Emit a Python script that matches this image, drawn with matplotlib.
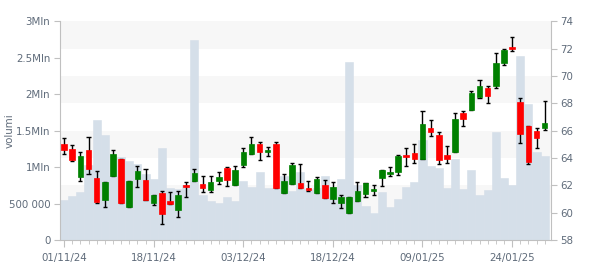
import matplotlib
matplotlib.use("Agg")
import matplotlib.pyplot as plt
from matplotlib.transforms import blended_transform_factory
from matplotlib.patches import Rectangle

dates = ["01/11/24", "04/11/24", "05/11/24", "06/11/24", "07/11/24", "08/11/24", "11/11/24",
         "12/11/24", "13/11/24", "14/11/24", "15/11/24", "18/11/24", "19/11/24", "20/11/24",
         "21/11/24", "22/11/24", "25/11/24", "26/11/24", "27/11/24", "28/11/24", "29/11/24",
         "02/12/24", "03/12/24", "04/12/24", "05/12/24", "06/12/24", "09/12/24", "10/12/24",
         "11/12/24", "12/12/24", "13/12/24", "16/12/24", "17/12/24", "18/12/24", "19/12/24",
         "20/12/24", "23/12/24", "27/12/24", "30/12/24",
         "02/01/25", "03/01/25", "06/01/25", "07/01/25", "08/01/25", "09/01/25", "10/01/25",
         "13/01/25", "14/01/25", "15/01/25", "16/01/25", "17/01/25", "20/01/25", "21/01/25",
         "22/01/25", "23/01/25", "24/01/25", "27/01/25", "28/01/25", "29/01/25", "30/01/25"]

opens = [65.02, 64.63, 62.63, 64.59, 62.54, 60.95, 62.71, 63.93, 60.39, 62.49,
         62.39, 60.73, 61.44, 60.85, 60.22, 62.02, 62.32, 62.10, 61.63, 62.32,
         63.27, 62.05, 63.51, 64.32, 65.02, 64.46, 65.02, 61.46, 62.12, 62.17,
         61.80, 61.46, 62.02, 61.02, 60.73, 60.00, 60.88, 61.39, 61.61, 62.56,
         62.85, 63.00, 64.20, 64.37, 63.93, 66.20, 65.68, 64.22, 64.46, 67.27,
         67.49, 68.49, 69.12, 69.27, 70.98, 72.15, 68.07, 66.32, 65.98, 66.22]
highs = [65.44, 64.93, 64.41, 65.51, 63.02, 62.24, 64.59, 63.93, 62.32, 63.39,
         63.17, 61.29, 61.59, 61.49, 61.56, 62.22, 63.17, 62.66, 62.66, 62.95,
         63.32, 63.39, 64.71, 65.51, 65.20, 64.78, 65.15, 62.80, 63.61, 63.54,
         62.29, 62.59, 62.37, 62.22, 61.27, 61.17, 62.22, 62.15, 62.00, 63.12,
         63.37, 64.20, 64.71, 65.00, 67.41, 66.76, 65.88, 64.90, 67.27, 67.41,
         68.93, 69.68, 69.29, 71.66, 71.95, 72.83, 68.37, 66.32, 66.17, 68.15]
lows = [64.27, 63.80, 62.29, 62.80, 60.74, 60.39, 62.71, 60.73, 60.39, 61.85,
        60.95, 60.54, 59.15, 60.61, 59.66, 61.17, 62.32, 61.54, 61.54, 62.12,
        61.98, 62.05, 63.32, 64.32, 63.83, 64.12, 61.83, 61.41, 62.12, 61.83,
        61.56, 61.46, 61.10, 60.68, 60.32, 60.00, 60.88, 61.12, 61.32, 61.93,
        62.66, 62.73, 63.39, 63.61, 63.93, 65.59, 63.54, 63.61, 64.46, 66.37,
        67.49, 68.37, 68.00, 69.10, 70.78, 71.80, 65.07, 63.56, 64.71, 66.02]
closes = [64.61, 63.85, 64.12, 63.22, 60.76, 62.24, 64.29, 60.73, 62.32, 63.07,
          60.95, 61.29, 59.93, 60.61, 61.27, 61.90, 62.88, 61.83, 62.22, 62.59,
          62.41, 63.10, 64.44, 65.00, 64.46, 64.59, 61.83, 62.32, 63.49, 61.83,
          61.68, 62.46, 61.10, 61.88, 61.15, 61.17, 61.59, 62.15, 61.76, 63.12,
          62.98, 64.15, 64.05, 63.95, 66.49, 65.93, 63.88, 63.95, 66.85, 66.88,
          68.73, 69.24, 68.56, 70.93, 71.90, 72.00, 65.73, 63.68, 65.49, 66.56]
volumes = [549000, 604000, 658000, 1033000, 1646000, 1445000, 878000, 1143000, 1088000, 1042000,
           905000, 841000, 1262000, 709000, 700000, 760000, 2743000, 617000, 535000, 507000,
           590000, 535000, 809000, 727000, 933000, 713000, 713000, 878000, 676000, 933000,
           699000, 713000, 878000, 727000, 837000, 2442000, 754000, 471000, 370000, 658000,
           453000, 562000, 727000, 796000, 1372000, 1015000, 988000, 713000, 1111000, 700000,
           960000, 617000, 686000, 1481000, 850000, 754000, 2524000, 1865000, 1207000, 1152000]

label_every = 11
vol_ticks = [0, 500000, 1000000, 1500000, 2000000, 2500000, 3000000]
vol_tick_labels = ["0", "500 000", "1Mln", "1.5Mln", "2Mln", "2.5Mln", "3Mln"]
price_ticks = [58, 60, 62, 64, 66, 68, 70, 72, 74]
band_ranges = [(60, 62), (64, 66), (68, 70), (72, 74)]

text_c = "#5f6b7a"
axis_c = "#c0c0c0"
vol_c = "#d5dfe9"
band_c = "#f7f7f7"
up_c = "#008000"
down_c = "#ff0000"
fs = 6.8

fig = plt.figure(figsize=(6, 2.7), dpi=100)
ax = fig.add_axes([0.1, 0.111, 0.818, 0.81])
ax2 = ax.twinx()

x = list(range(len(dates)))
ax.set_xlim(-0.5, 59.75)
ax.set_ylim(0, 3000000)
ax2.set_ylim(58, 74)

# background bands (price axis)
trans = blended_transform_factory(ax.transAxes, ax2.transData)
for lo, hi in band_ranges:
    ax.add_patch(Rectangle((0, lo), 1, hi - lo, transform=trans, color=band_c, lw=0, zorder=0))

ax.bar(x, volumes, width=1.0, color=vol_c, edgecolor=vol_c, linewidth=0.4, zorder=1)

# candles
ax2.vlines(x, lows, highs, color="black", lw=1, zorder=2)
cap = 0.25
ax2.hlines(highs, [i - cap for i in x], [i + cap for i in x], color="black", lw=1, zorder=2)
ax2.hlines(lows, [i - cap for i in x], [i + cap for i in x], color="black", lw=1, zorder=2)
colors = [up_c if c >= o else down_c for o, c in zip(opens, closes)]
bottoms = [min(o, c) for o, c in zip(opens, closes)]
heights = [max(abs(c - o), 0.05) for o, c in zip(opens, closes)]
ax2.bar(x, heights, bottom=bottoms, width=0.68, color=colors, edgecolor=colors, lw=0.5, zorder=3)

# axes styling
for a in (ax, ax2):
    for s in a.spines.values():
        s.set_visible(False)
ax.spines["left"].set_visible(True)
ax.spines["left"].set_color(axis_c)
ax.spines["bottom"].set_visible(True)
ax.spines["bottom"].set_color(axis_c)
ax2.spines["right"].set_visible(True)
ax2.spines["right"].set_color(axis_c)

ax.set_yticks(vol_ticks)
ax.set_yticklabels(vol_tick_labels)
ax2.set_yticks(price_ticks)
major = x[::label_every]
ax.set_xticks(major)
ax.set_xticklabels([dates[i] for i in major])
ax.set_xticks(x, minor=True)
ax.tick_params(axis="x", which="major", length=5, color=axis_c, labelcolor=text_c, labelsize=fs + 0.6, pad=4)
ax.tick_params(axis="x", which="minor", length=3, color=axis_c)
ax.tick_params(axis="y", length=4, color=axis_c, labelcolor=text_c, labelsize=fs + 0.6, pad=3)
ax2.tick_params(axis="y", length=4, color=axis_c, labelcolor=text_c, labelsize=fs + 0.6, pad=3)
ax.set_ylabel("volumi", color=text_c, fontsize=fs + 0.6)
ax.yaxis.set_label_coords(-0.092, 0.5)

ax.set_zorder(0)
ax2.set_zorder(1)
ax2.patch.set_visible(False)

fig.savefig("out.png", dpi=100)
